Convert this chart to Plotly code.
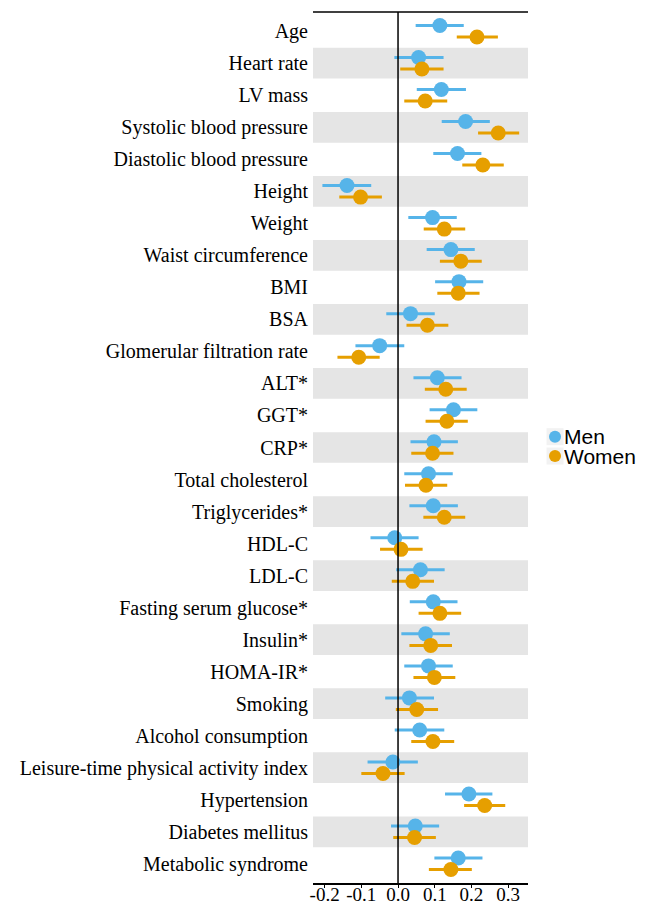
import plotly.graph_objects as go

# Standardised effect estimates with 95% confidence intervals
categories = [
    "Age", "Heart rate", "LV mass", "Systolic blood pressure",
    "Diastolic blood pressure", "Height", "Weight", "Waist circumference",
    "BMI", "BSA", "Glomerular filtration rate", "ALT*", "GGT*", "CRP*",
    "Total cholesterol", "Triglycerides*", "HDL-C", "LDL-C",
    "Fasting serum glucose*", "Insulin*", "HOMA-IR*", "Smoking",
    "Alcohol consumption", "Leisure-time physical activity index",
    "Hypertension", "Diabetes mellitus", "Metabolic syndrome",
]

men_est = [0.114, 0.056, 0.118, 0.184, 0.162, -0.139, 0.094, 0.144, 0.166,
           0.034, -0.050, 0.107, 0.151, 0.098, 0.083, 0.096, -0.009, 0.061,
           0.096, 0.075, 0.083, 0.031, 0.059, -0.014, 0.193, 0.047, 0.164]
men_lo = [0.048, -0.010, 0.051, 0.119, 0.096, -0.206, 0.028, 0.078, 0.101,
          -0.032, -0.116, 0.042, 0.086, 0.034, 0.017, 0.031, -0.075, -0.005,
          0.032, 0.009, 0.017, -0.035, -0.009, -0.083, 0.128, -0.019, 0.099]
men_hi = [0.179, 0.124, 0.185, 0.250, 0.227, -0.073, 0.160, 0.209, 0.232,
          0.100, 0.017, 0.173, 0.216, 0.163, 0.149, 0.163, 0.056, 0.127,
          0.162, 0.141, 0.149, 0.098, 0.126, 0.054, 0.257, 0.112, 0.230]

women_est = [0.215, 0.065, 0.074, 0.273, 0.231, -0.102, 0.126, 0.171, 0.164,
             0.080, -0.107, 0.130, 0.133, 0.094, 0.076, 0.126, 0.008, 0.040,
             0.114, 0.089, 0.099, 0.051, 0.095, -0.041, 0.236, 0.045, 0.144]
women_lo = [0.160, 0.006, 0.017, 0.218, 0.175, -0.160, 0.070, 0.114, 0.107,
            0.023, -0.165, 0.073, 0.075, 0.036, 0.019, 0.069, -0.049, -0.017,
            0.056, 0.031, 0.042, -0.006, 0.036, -0.100, 0.180, -0.013, 0.084]
women_hi = [0.272, 0.124, 0.134, 0.330, 0.288, -0.044, 0.183, 0.228, 0.222,
            0.137, -0.050, 0.187, 0.190, 0.151, 0.134, 0.183, 0.067, 0.098,
            0.172, 0.147, 0.156, 0.109, 0.153, 0.018, 0.292, 0.103, 0.201]

x_ticks = [-0.2, -0.1, 0.0, 0.1, 0.2, 0.3]

series_names = ["Men", "Women"]
MEN_COLOR = "#56B4E9"
WOMEN_COLOR = "#E69F00"
OFFSET = 0.18

SERIF = "Liberation Serif, Times New Roman, serif"
SANS = "Liberation Sans, Arial, sans-serif"

rows = list(range(len(categories)))
fig = go.Figure()


def add_series(est, lo, hi, shift, color, name):
    ys = [r + shift for r in rows]
    # confidence interval segments
    seg_x, seg_y = [], []
    for y, a, b in zip(ys, lo, hi):
        seg_x += [a, b, None]
        seg_y += [y, y, None]
    fig.add_trace(go.Scatter(
        x=seg_x, y=seg_y, mode="lines",
        line=dict(color=color, width=3),
        showlegend=False, hoverinfo="skip",
    ))
    fig.add_trace(go.Scatter(
        x=est, y=ys, mode="markers", name=name, showlegend=False,
        marker=dict(color=color, size=15, line=dict(width=0)),
    ))


add_series(men_est, men_lo, men_hi, -OFFSET, MEN_COLOR, series_names[0])
add_series(women_est, women_lo, women_hi, OFFSET, WOMEN_COLOR, series_names[1])

# alternating background bands
shapes = []
for r in rows:
    if r % 2 == 1:
        shapes.append(dict(
            type="rect", xref="paper", yref="y", x0=0, x1=1,
            y0=r - 0.48, y1=r + 0.48, fillcolor="#e5e5e5",
            line=dict(width=0), layer="below",
        ))
# reference line at zero and top border
shapes.append(dict(type="line", xref="x", yref="paper", x0=0, x1=0,
                   y0=0, y1=1, line=dict(color="black", width=1.5)))
shapes.append(dict(type="line", xref="paper", yref="paper", x0=0, x1=1,
                   y0=1, y1=1, line=dict(color="black", width=1.5)))

# legend: key boxes with dots, then labels
annotations = []
legend_x = 1.1256          # paper x of key centre
legend_ys = [0.5124, 0.4902]
for name, color, ly in zip(series_names, [MEN_COLOR, WOMEN_COLOR], legend_ys):
    shapes.append(dict(
        type="rect", xref="paper", yref="paper",
        xsizemode="pixel", ysizemode="pixel",
        xanchor=legend_x, yanchor=ly,
        x0=-8.5, x1=8.5, y0=-8.5, y1=8.5,
        fillcolor="#f2f2f2", line=dict(width=0),
    ))
    shapes.append(dict(
        type="circle", xref="paper", yref="paper",
        xsizemode="pixel", ysizemode="pixel",
        xanchor=legend_x, yanchor=ly,
        x0=-6, x1=6, y0=-6, y1=6,
        fillcolor=color, line=dict(width=0),
    ))
    annotations.append(dict(
        text=name, xref="paper", yref="paper", x=legend_x, y=ly,
        xanchor="left", yanchor="middle", xshift=8, showarrow=False,
        borderpad=0, height=19, valign="middle",
        font=dict(family=SANS, size=21, color="black"),
    ))

fig.update_layout(
    width=655, height=905,
    margin=dict(l=313, r=127, t=12, b=22, autoexpand=False),
    paper_bgcolor="white", plot_bgcolor="white",
    shapes=shapes, annotations=annotations,
    showlegend=False,
    xaxis=dict(
        range=[-0.2316, 0.354],
        tickmode="array", tickvals=x_ticks,
        ticktext=[f"{v:.1f}" for v in x_ticks],
        showgrid=False, zeroline=False,
        showline=True, linecolor="black", linewidth=1.5,
        ticks="outside", ticklen=3, tickcolor="black",
        ticklabelstandoff=-10,
        tickfont=dict(family=SERIF, size=19, color="black"),
    ),
    yaxis=dict(
        range=[26.6, -0.6],
        tickmode="array", tickvals=rows, ticktext=categories,
        showgrid=False, zeroline=False, showline=False, ticks="",
        ticklabelstandoff=4,
        tickfont=dict(family=SERIF, size=20, color="black"),
    ),
)

fig.write_html("out.html")
